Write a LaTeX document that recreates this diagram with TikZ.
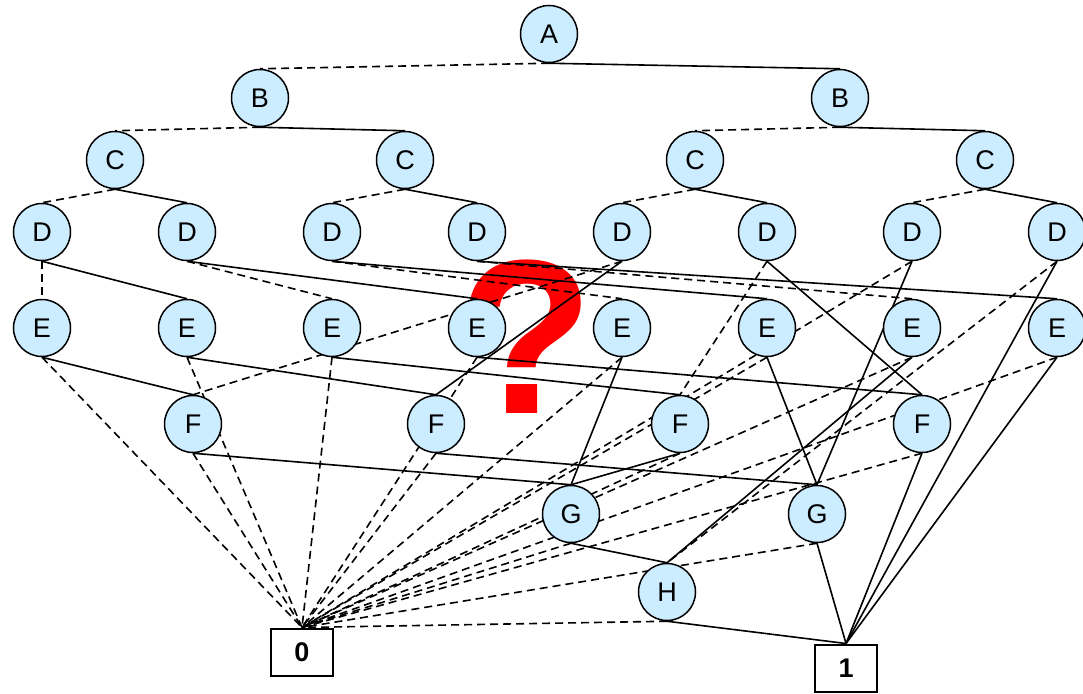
\documentclass[tikz,border=0pt]{standalone}
\usepackage{fontspec}
\setmainfont{Liberation Sans}
\usetikzlibrary{backgrounds}

\definecolor{varfill}{RGB}{204,236,255}

\tikzset{
  var/.style={circle, draw, line width=1.5pt, fill=varfill, minimum size=57pt, inner sep=0pt,
    font=\fontsize{27}{27}\selectfont},
  leaf/.style={rectangle, draw, line width=2pt, fill=white, minimum width=62pt, minimum height=47pt,
    inner sep=0pt, font=\bfseries\fontsize{27}{27}\selectfont},
  hi/.style={line width=1.6pt},
  lo/.style={line width=1.6pt, dash pattern=on 8pt off 5pt},
}

\begin{document}
\begin{tikzpicture}[x=1pt, y=-1pt]
  \useasboundingbox (0,0) rectangle (1083,693);

  % variable nodes, level by level
  \node[var] (a) at (549,34) {A};
  \node[var] (b1) at (260,98) {B};
  \node[var] (b2) at (840,98) {B};
  \foreach \i/\x in {1/115,2/405,3/695,4/985}
    \node[var] (c\i) at (\x,160) {C};
  \foreach \i in {1,...,8} {
    \node[var] (d\i) at ({145*\i-103},232) {D};
    \node[var] (e\i) at ({145*\i-103},328) {E};
  }
  \foreach \i/\x in {1/193,2/436,3/680,4/922}
    \node[var] (f\i) at (\x,424) {F};
  \node[var] (g1) at (571,514) {G};
  \node[var] (g2) at (817,514) {G};
  \node[var] (h) at (667,592) {H};

  % terminals
  \node[leaf] (zero) at (302,652) {0};
  \node[leaf] (one) at (846,668) {1};

  \begin{pgfonlayer}{background}
    \node[text=red, inner sep=0pt, anchor=base,
      font=\bfseries\fontsize{220}{220}\selectfont] (qmark) at (527,413) {?};

    % low edges
    \foreach \p/\q in {a/b1, b1/c1, b2/c3, c1/d1, c2/d3, c3/d5, c4/d7,
        d1/e1, d2/e3, d3/e5, d4/e7, d5/f1, d6/f3, d7/zero, d8/h,
        e1/zero, e2/zero, e3/zero, e4/zero, e5/zero, e6/zero, e7/zero, e8/zero,
        f1/zero, f2/zero, f3/zero, f4/zero, g1/zero, g2/zero, h/zero}
      \draw[lo] (\p.south) -- (\q.north);

    % high edges
    \foreach \p/\q in {a/b2, b1/c2, b2/c4, c1/d2, c2/d4, c3/d6, c4/d8,
        d1/e2, d2/e4, d3/e6, d4/e8, d5/f2, d6/f4, d7/g2, d8/one,
        e1/f1, e2/f2, e3/f3, e4/f4, e5/g1, e6/g2, e7/h, e8/one,
        f1/g1, f2/g2, f3/g1, f4/one, g1/h, g2/one, h/one}
      \draw[hi] (\p.south) -- (\q.north);
  \end{pgfonlayer}
\end{tikzpicture}
\end{document}
